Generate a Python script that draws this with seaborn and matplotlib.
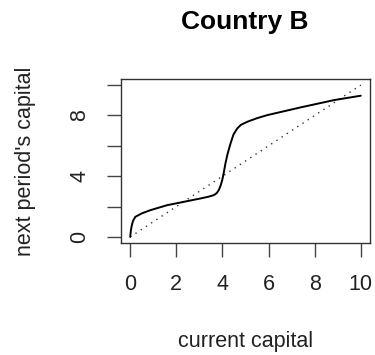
import matplotlib
matplotlib.use("Agg")
import matplotlib.pyplot as plt
import seaborn as sns
import pandas as pd

# data
capital_now = [0.0, 0.03, 0.07, 0.12, 0.22, 0.5, 0.87, 1.6, 2.32, 3.04, 3.4, 3.62, 3.75, 3.84,
               3.92, 3.99, 4.06, 4.13, 4.22, 4.35, 4.48, 4.64, 4.8, 5.07, 5.5, 5.94, 7.39, 8.84, 10.0]
capital_next = [0.0, 0.45, 0.77, 1.05, 1.32, 1.55, 1.76, 2.09, 2.31, 2.53, 2.65, 2.75, 2.88, 3.08,
                3.38, 3.74, 4.25, 4.84, 5.45, 6.15, 6.75, 7.14, 7.38, 7.58, 7.82, 8.02, 8.53, 9.01, 9.30]
diag_x = [0, 10]
diag_y = [0, 10]
x_ticks = [0, 2, 4, 6, 8, 10]
y_ticks = [0, 2, 4, 6, 8, 10]
y_ticklabels = ["0", "", "4", "", "8", ""]

sns.set_theme(style="white")
plt.rcParams["font.family"] = ["Liberation Sans", "DejaVu Sans"]

fig = plt.figure(figsize=(3.75, 3.55), dpi=100)
ax = fig.add_axes([121 / 375, 1 - 243 / 355, (370 - 121) / 375, (243 - 79) / 355])

curve = pd.DataFrame({"x": capital_now, "y": capital_next})
diag = pd.DataFrame({"x": diag_x, "y": diag_y})
sns.lineplot(data=diag, x="x", y="y", ax=ax, color="#333333", linewidth=1.0,
             linestyle=(0, (1, 3.5)))
sns.lineplot(data=curve, x="x", y="y", ax=ax, color="black", linewidth=1.4)

ax.set_xlim(-0.4, 10.4)
ax.set_ylim(-0.4, 10.4)
ax.set_xticks(x_ticks)
ax.set_xticklabels([str(t) for t in x_ticks])
ax.set_yticks(y_ticks)
ax.set_yticklabels(y_ticklabels, rotation=90, va="center")
ax.tick_params(axis="both", direction="out", length=10, width=1.0, color="#444444",
               labelsize=15.5, labelcolor="#222222", pad=12, left=True, bottom=True)
for s in ax.spines.values():
    s.set_color("#333333")
    s.set_linewidth(1.0)

ax.set_xlabel("current capital", fontsize=15.5, color="#222222", labelpad=26)
ax.set_ylabel("next period's capital", fontsize=15.5, color="#222222", labelpad=24)
fig.text(245 / 375, 1 - 22 / 355, "Country B", fontsize=19, fontweight="bold",
         ha="center", va="center", color="black")

fig.savefig("out.png", dpi=100)
